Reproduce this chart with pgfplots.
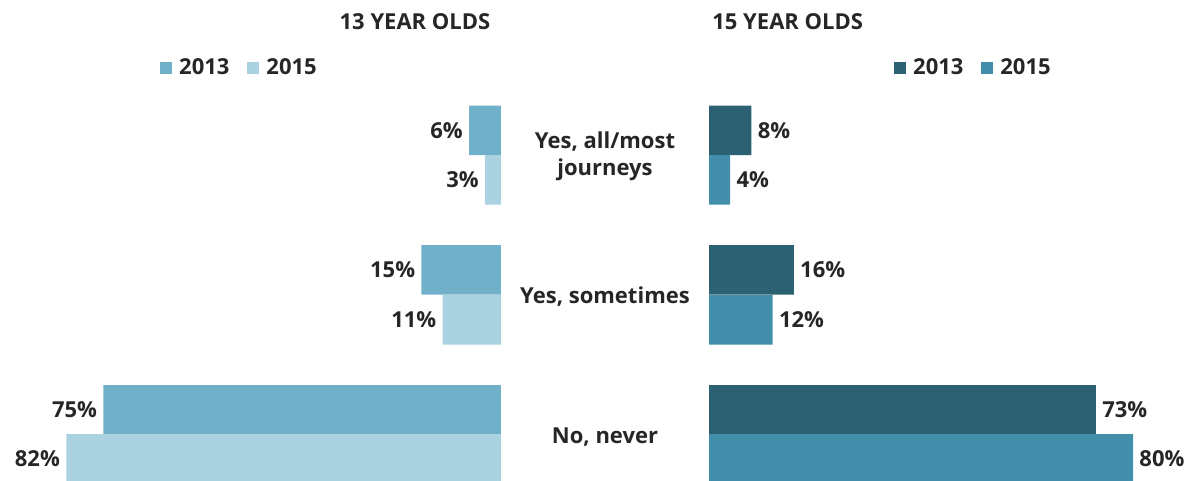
\documentclass[border=0pt]{standalone}
\usepackage{pgfplots}
\pgfplotsset{compat=1.18}
\usepackage{fontspec}
\setmainfont{Open Sans}
\definecolor{txt}{HTML}{262626}
\definecolor{la}{HTML}{70B0C9}
\definecolor{lb}{HTML}{AAD2E0}
\definecolor{ra}{HTML}{2B6172}
\definecolor{rb}{HTML}{438EAB}
\newcommand{\lab}{\bfseries\fontsize{11}{13.5}\selectfont}

\pgfplotsset{
  panel/.style={
    hide axis, scale only axis, height=240.5pt,
    ymin=-481, ymax=0, xmin=0,
    xbar, bar width=24.75pt, bar shift=0pt, clip=false,
    point meta=x,
    /pgf/number format/assume math mode=true,
    nodes near coords={\pgfmathprintnumber{\pgfplotspointmeta}\%},
    every node near coord/.append style={font=\lab, text=txt, inner sep=3pt},
    legend image code/.code={\fill[##1] (0pt,-3pt) rectangle (6pt,3pt);},
    legend style={draw=none, fill=none, inner sep=0pt, font=\lab, text=txt,
      legend columns=2,
      /tikz/every odd column/.append style={column sep=1.5pt},
      /tikz/every even column/.append style={column sep=7pt},
      nodes={inner sep=2pt}},
  }
}

\begin{document}
\begin{tikzpicture}[x=0.5pt,y=0.5pt]
\useasboundingbox (0,0) rectangle (1194,481);

% 13 year olds (bars grow to the left)
\begin{axis}[panel, at={(250.5pt,0pt)}, anchor=south east,
  width=250.5pt, xmax=94.5, x dir=reverse,
  nodes near coords align={anchor=east},
  legend style={at={(0.319,0.859)}, anchor=west}]
\addplot[fill=la, draw=none] coordinates {(6,-130.5) (15,-270) (75,-410)};
\addplot[fill=lb, draw=none] coordinates {(3,-180) (11,-320) (82,-459)};
\legend{2013,2015}
\end{axis}

% 15 year olds (bars grow to the right)
\begin{axis}[panel, at={(354.5pt,0pt)}, anchor=south west,
  width=242.5pt, xmax=91.5,
  nodes near coords align={anchor=west},
  legend style={at={(0.381,0.859)}, anchor=west}]
\addplot[fill=ra, draw=none] coordinates {(8,-130.5) (16,-270) (73,-410)};
\addplot[fill=rb, draw=none] coordinates {(4,-180) (12,-320) (80,-459)};
\legend{2013,2015}
\end{axis}

\node[font=\lab, text=txt, inner sep=0pt] at (415,459) {13 YEAR OLDS};
\node[font=\lab, text=txt, inner sep=0pt, anchor=west] at (712,459) {15 YEAR OLDS};

\node[font=\lab, text=txt, align=center, inner sep=0pt] at (605,324.5) {Yes, all/most\\journeys};
\node[font=\lab, text=txt, inner sep=0pt] at (605,184) {Yes, sometimes};
\node[font=\lab, text=txt, inner sep=0pt] at (605,44) {No, never};
\end{tikzpicture}
\end{document}
